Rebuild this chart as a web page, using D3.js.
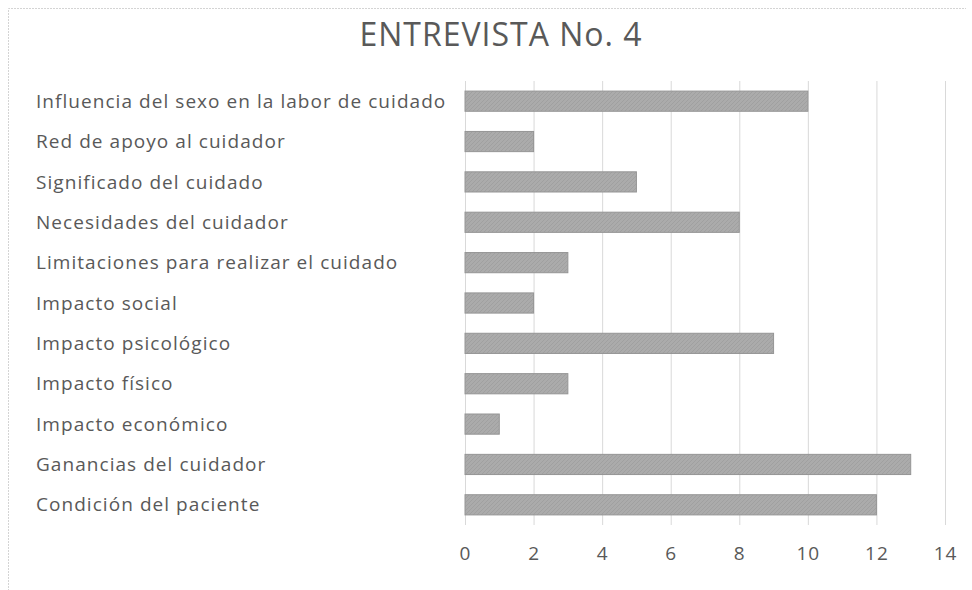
<!DOCTYPE html>
<html><head><meta charset="utf-8">
<script src="https://cdn.jsdelivr.net/npm/d3@7"></script>
<style>body{margin:0;background:#fff}svg{display:block}</style>
</head><body>
<script>
const title = "ENTREVISTA No. 4";
const categories = [
  "Influencia del sexo en la labor de cuidado",
  "Red de apoyo al cuidador",
  "Significado del cuidado",
  "Necesidades del cuidador",
  "Limitaciones para realizar el cuidado",
  "Impacto social",
  "Impacto psicológico",
  "Impacto físico",
  "Impacto económico",
  "Ganancias del cuidador",
  "Condición del paciente"
];
const values = [10, 2, 5, 8, 3, 2, 9, 3, 1, 13, 12];
const xTicks = [0, 2, 4, 6, 8, 10, 12, 14];

const W = 972, H = 590;
const svg = d3.select("body").append("svg").attr("width", W).attr("height", H);
const font = "'Open Sans', sans-serif";

const defs = svg.append("defs");
const pat = defs.append("pattern").attr("id","hatch").attr("patternUnits","userSpaceOnUse")
  .attr("width",4).attr("height",4);
pat.append("rect").attr("width",4).attr("height",4).attr("fill","#ababab");
pat.append("path").attr("d","M0,4 L4,0 M-1,1 L1,-1 M3,5 L5,3").attr("stroke","#a0a0a0").attr("stroke-width",1);

// chart border (top & left visible)
svg.append("path").attr("d", "M8.5,600 V8.5 H966").attr("fill","none")
  .attr("stroke","#d4d4d4").attr("stroke-width",1).attr("stroke-dasharray","2,1");

svg.append("text").attr("x", 501).attr("y", 46).attr("text-anchor","middle")
  .attr("font-family", font).attr("font-size", 32).attr("letter-spacing", 1)
  .attr("fill","#595959").text(title);

const x = d3.scaleLinear().domain([0, 14]).range([465, 945]);
const y = d3.scaleBand().domain(categories).range([81, 525]).paddingInner(0.5).paddingOuter(0.25);

const grid = svg.append("g");
grid.selectAll("line").data(xTicks).join("line")
  .attr("x1", d => x(d) + 0.5).attr("x2", d => x(d) + 0.5)
  .attr("y1", 81).attr("y2", 525)
  .attr("stroke", "#d9d9d9").attr("stroke-width", 1);

svg.append("g").selectAll("rect").data(values).join("rect")
  .attr("x", x(0)).attr("y", (d, i) => y(categories[i]))
  .attr("width", d => x(d) - x(0)).attr("height", y.bandwidth())
  .attr("fill", "url(#hatch)").attr("stroke", "#959595").attr("stroke-width", 1);

svg.append("g").selectAll("text").data(categories).join("text")
  .attr("x", 36).attr("y", d => y(d) + y.bandwidth() / 2)
  .attr("dy", "0.35em").attr("font-family", font).attr("font-size", 19)
  .attr("letter-spacing", 1.05)
  .attr("fill", "#595959").text(d => d);

const xAxis = d3.axisBottom(x).tickValues(xTicks).tickSize(0).tickPadding(0);
const gx = svg.append("g").attr("transform", "translate(0,553)").call(xAxis);
gx.select(".domain").remove();
gx.selectAll("text").attr("font-family", font).attr("font-size", 19).attr("letter-spacing", 1)
  .attr("fill", "#595959").attr("dy","0.35em");
</script>
</body></html>
